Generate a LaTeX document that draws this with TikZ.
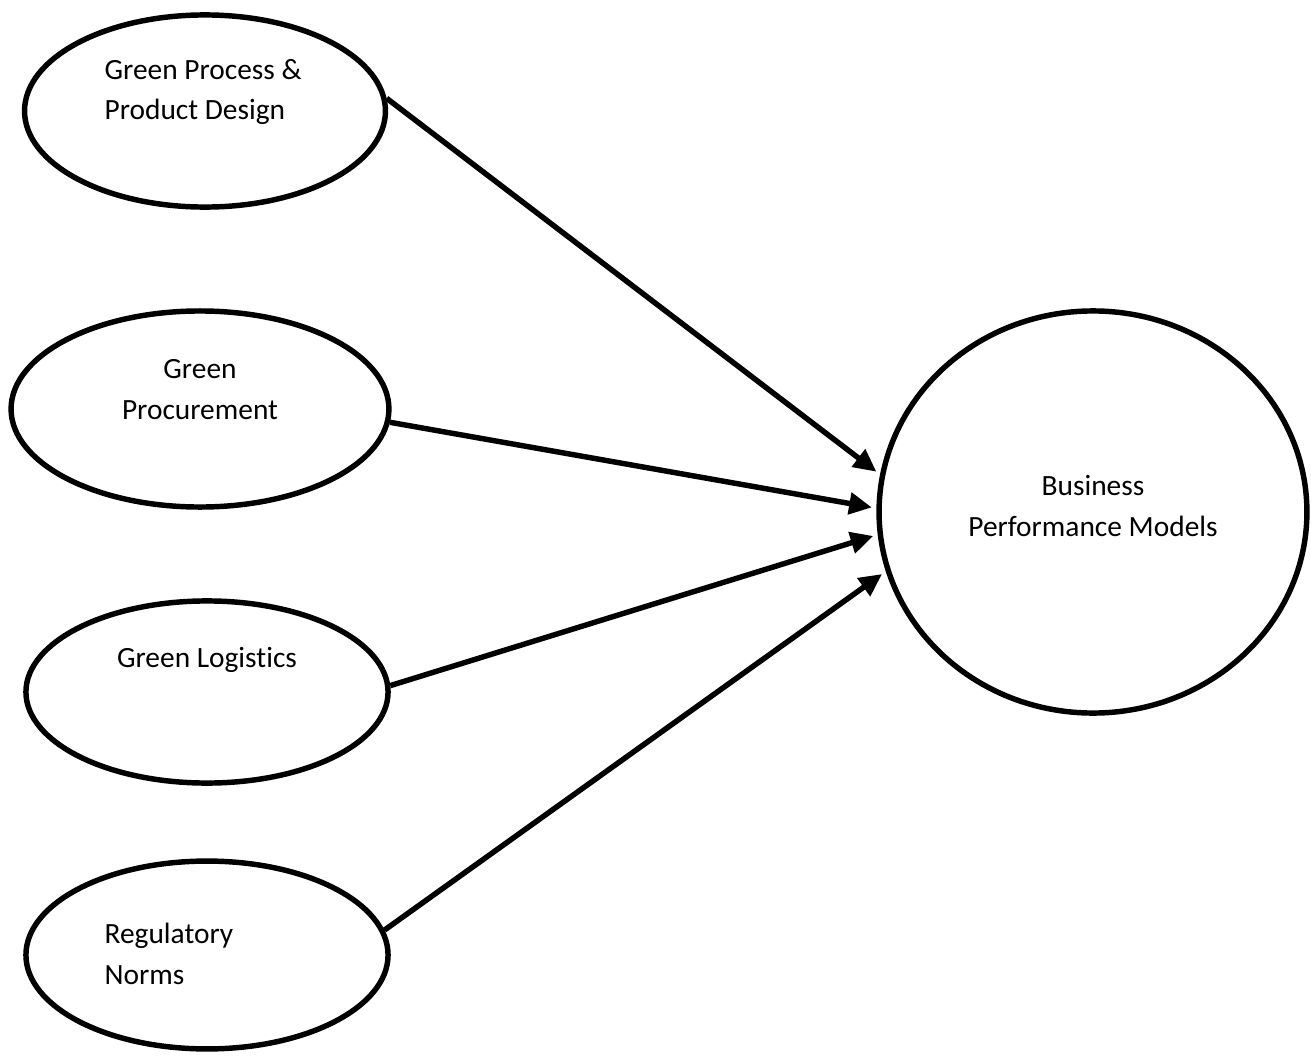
\documentclass[tikz,border=0pt]{standalone}
\usepackage{fontspec}
\setmainfont{Carlito}[Ligatures=NoCommon]
\usetikzlibrary{arrows.meta,shapes.geometric}
\tikzset{
  factor/.style={draw,ellipse,line width=1.8pt,inner sep=0pt},
  factortext/.style={inner sep=0pt,font=\fontsize{9.7pt}{13.5pt}\selectfont},
  link/.style={line width=1.8pt,-{Triangle[length=7.5pt,width=7pt]},shorten >=1.5pt}
}
\begin{document}
\begin{tikzpicture}[x=0.33pt,y=-0.33pt]
\path[use as bounding box] (0,0) rectangle (1311,1057);
\node[factor,minimum width=119.1pt,minimum height=63.4pt] (design) at (205,111) {};
\node[factortext,anchor=west,align=left] (designtxt) at (104,92) {Green Process \&\\Product Design};
\node[factor,minimum width=124.7pt,minimum height=64.7pt] (procure) at (200,409) {};
\node[factortext,align=center] (procuretxt) at (200,390) {Green\\Procurement};
\node[factor,minimum width=119.5pt,minimum height=60.1pt] (logist) at (207,692) {};
\node[factortext,align=center] (logisttxt) at (207,660) {Green Logistics};
\node[factor,minimum width=119.5pt,minimum height=62pt] (norms) at (207,955) {};
\node[factortext,anchor=west,align=left] (normstxt) at (104,954) {Regulatory\\Norms};
\node[factor,minimum width=141.2pt,minimum height=132.7pt] (perf) at (1093,512) {};
\node[factortext,align=center] (perftxt) at (1093,506) {Business\\Performance Models};
\draw[link] (design.4) -- (perf.170);
\draw[link] (procure.-4) -- (perf.179);
\draw[link] (logist.2) -- (perf.186.6);
\draw[link] (norms.8) -- (perf.196.5);
\end{tikzpicture}
\end{document}
